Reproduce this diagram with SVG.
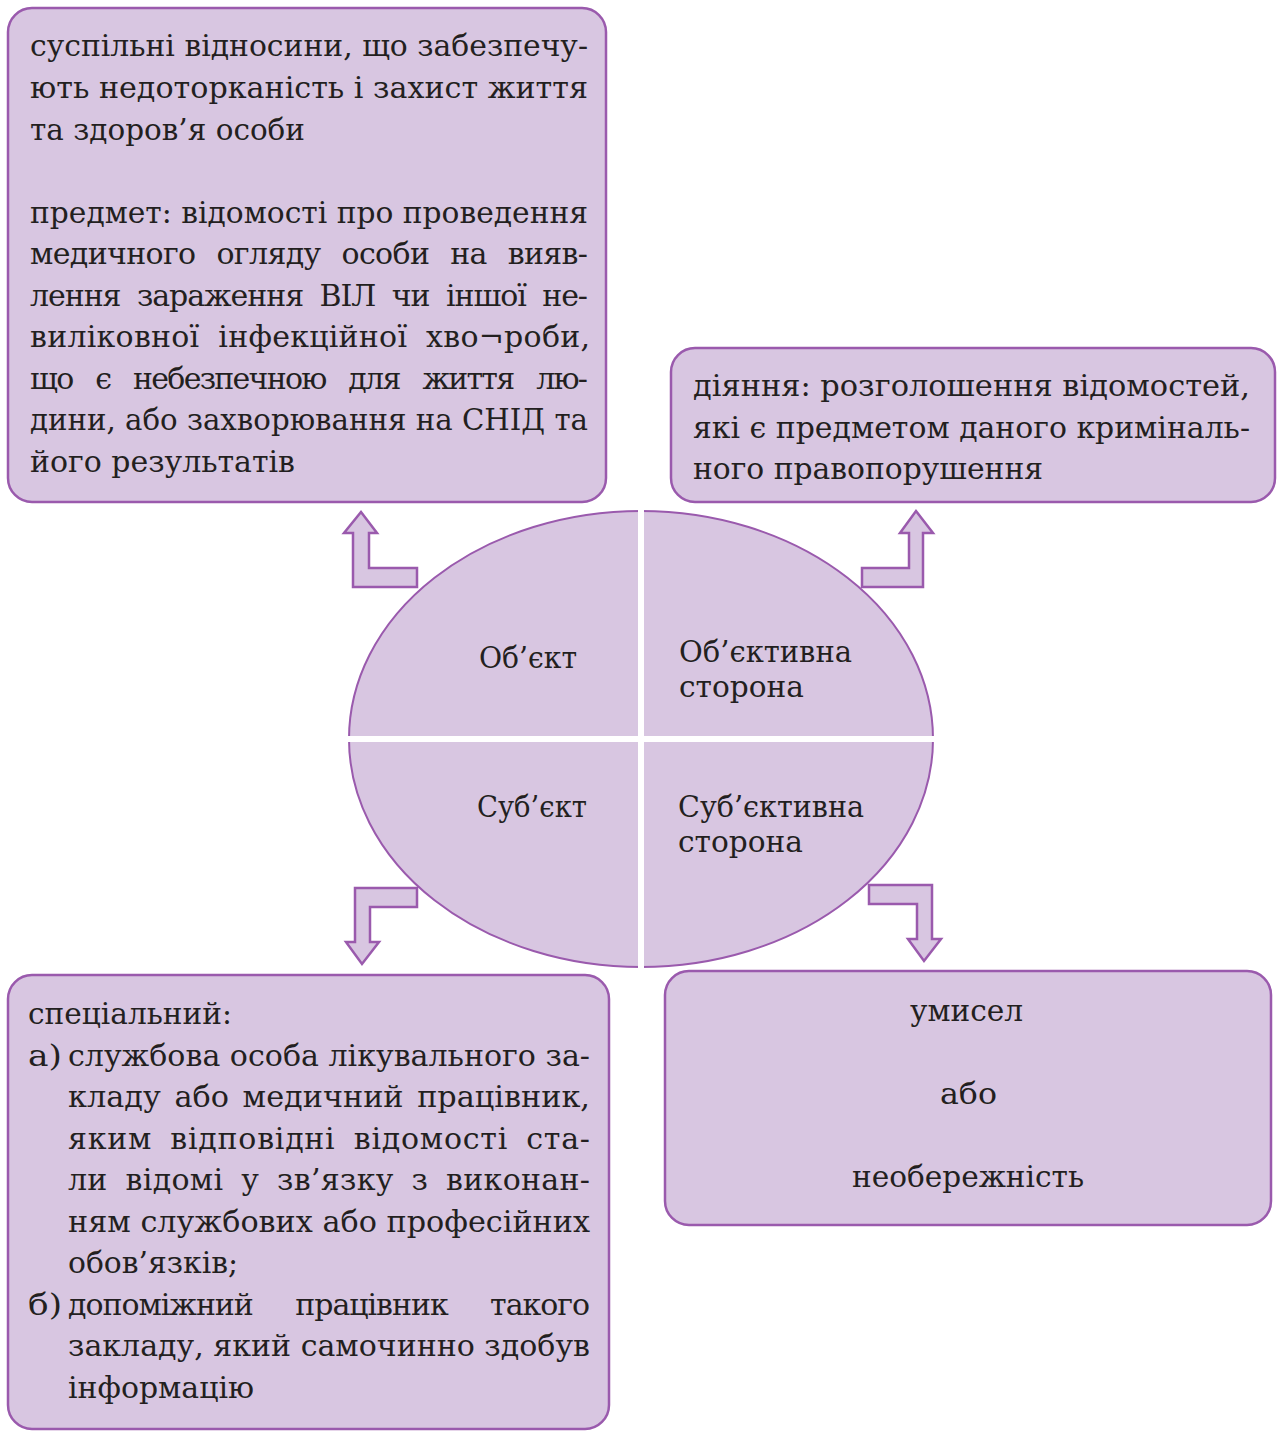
<svg xmlns="http://www.w3.org/2000/svg" width="1277" height="1431" viewBox="0 0 1277 1431">
<style>
.box{fill:#d8c6e1;stroke:#9a5aad;stroke-width:2.5}
.arr{fill:#d8c6e1;stroke:#9a5aad;stroke-width:2.5;stroke-linejoin:miter}
.t{font-family:"DejaVu Serif","Liberation Serif",serif;font-size:30px;fill:#231f20}
.gap{stroke:#ffffff;stroke-width:6}
</style>
<rect width="1277" height="1431" fill="#ffffff"/>
<g id="object-box">
<rect class="box" x="8" y="8" width="598" height="494" rx="24"/>
<text class="t" x="30" y="56" textLength="558" lengthAdjust="spacingAndGlyphs">суспільні відносини, що забезпечу-</text>
<text class="t" x="30" y="98" textLength="558" lengthAdjust="spacingAndGlyphs">ють недоторканість і захист життя</text>
<text class="t" x="30" y="139.5" textLength="275" lengthAdjust="spacingAndGlyphs">та здоров’я особи</text>
<text class="t" x="30" y="222.5" textLength="558" lengthAdjust="spacingAndGlyphs">предмет: відомості про проведення</text>
<text class="t" x="30" y="264" word-spacing="12" textLength="558" lengthAdjust="spacing">медичного огляду особи на вияв-</text>
<text class="t" x="30" y="305.5" word-spacing="8" textLength="558" lengthAdjust="spacing">лення зараження ВІЛ чи іншої не-</text>
<text class="t" x="30" y="347" word-spacing="9" textLength="560" lengthAdjust="spacing">виліковної інфекційної хво¬роби,</text>
<text class="t" x="30" y="388.5" word-spacing="15" textLength="558" lengthAdjust="spacing">що є небезпечною для життя лю-</text>
<text class="t" x="30" y="430" textLength="558" lengthAdjust="spacingAndGlyphs">дини, або захворювання на СНІД та</text>
<text class="t" x="30" y="471.5" textLength="265" lengthAdjust="spacingAndGlyphs">його результатів</text>
</g>
<g id="objective-side-box">
<rect class="box" x="671" y="348" width="604" height="154" rx="24"/>
<text class="t" x="693" y="396" textLength="557" lengthAdjust="spacingAndGlyphs">діяння: розголошення відомостей,</text>
<text class="t" x="693" y="437.5" textLength="557" lengthAdjust="spacingAndGlyphs">які є предметом даного криміналь-</text>
<text class="t" x="693" y="479" textLength="350" lengthAdjust="spacingAndGlyphs">ного правопорушення</text>
</g>
<g id="subject-box">
<rect class="box" x="8" y="975" width="601" height="454" rx="24"/>
<text class="t" x="28" y="1024" textLength="204" lengthAdjust="spacingAndGlyphs">спеціальний:</text>
<text class="t" x="28" y="1065.5" textLength="34" lengthAdjust="spacingAndGlyphs">а)</text>
<text class="t" x="68" y="1065.5" textLength="522" lengthAdjust="spacingAndGlyphs">службова особа лікувального за-</text>
<text class="t" x="68" y="1107" word-spacing="4" textLength="522" lengthAdjust="spacingAndGlyphs">кладу або медичний працівник,</text>
<text class="t" x="68" y="1148.5" word-spacing="8" textLength="522" lengthAdjust="spacing">яким відповідні відомості ста-</text>
<text class="t" x="68" y="1190" word-spacing="8" textLength="522" lengthAdjust="spacing">ли відомі у зв’язку з виконан-</text>
<text class="t" x="68" y="1231.5" textLength="522" lengthAdjust="spacingAndGlyphs">ням службових або професійних</text>
<text class="t" x="68" y="1273" textLength="170" lengthAdjust="spacingAndGlyphs">обов’язків;</text>
<text class="t" x="28" y="1314.5" textLength="34" lengthAdjust="spacingAndGlyphs">б)</text>
<text class="t" x="68" y="1314.5" word-spacing="34" textLength="522" lengthAdjust="spacing">допоміжний працівник такого</text>
<text class="t" x="68" y="1356" textLength="522" lengthAdjust="spacingAndGlyphs">закладу, який самочинно здобув</text>
<text class="t" x="68" y="1397.5" textLength="186" lengthAdjust="spacingAndGlyphs">інформацію</text>
</g>
<g id="subjective-side-box">
<rect class="box" x="665" y="971" width="606" height="254" rx="24"/>
<text class="t" x="910" y="1021" textLength="113" lengthAdjust="spacingAndGlyphs">умисел</text>
<text class="t" x="940" y="1104" textLength="57" lengthAdjust="spacingAndGlyphs">або</text>
<text class="t" x="852" y="1187" textLength="232" lengthAdjust="spacingAndGlyphs">необережність</text>
</g>
<g id="elements-ellipse">
<ellipse cx="641" cy="739" rx="292" ry="228" fill="#d8c6e1" stroke="#9a5aad" stroke-width="2"/>
<line class="gap" x1="641" y1="505" x2="641" y2="973"/>
<line class="gap" x1="340" y1="739" x2="942" y2="739"/>
<g id="q-object"><text class="t" x="479" y="668" textLength="98" lengthAdjust="spacingAndGlyphs">Об’єкт</text></g>
<g id="q-objective-side"><text class="t" x="679" y="662" textLength="173" lengthAdjust="spacingAndGlyphs">Об’єктивна</text>
<text class="t" x="679" y="697" textLength="125" lengthAdjust="spacingAndGlyphs">сторона</text></g>
<g id="q-subject"><text class="t" x="477" y="817" textLength="110" lengthAdjust="spacingAndGlyphs">Суб’єкт</text></g>
<g id="q-subjective-side"><text class="t" x="678" y="817" textLength="186" lengthAdjust="spacingAndGlyphs">Суб’єктивна</text>
<text class="t" x="678" y="852" textLength="125" lengthAdjust="spacingAndGlyphs">сторона</text></g>
</g>
<g id="connectors">
<polygon class="arr" points="361,512 377,533 369,533 369,568 417,568 417,587 353,587 353,533 344,533"/>
<polygon class="arr" points="916,511 933,533 923,533 923,587 862,587 862,568 909,568 909,533 900,533"/>
<polygon class="arr" points="355,888 417,888 417,907 370,907 370,942 379,942 362,964 346,942 355,942"/>
<polygon class="arr" points="869,885 932,885 932,939 941,939 924,961 908,939 917,939 917,904 869,904"/>
</g>
</svg>
